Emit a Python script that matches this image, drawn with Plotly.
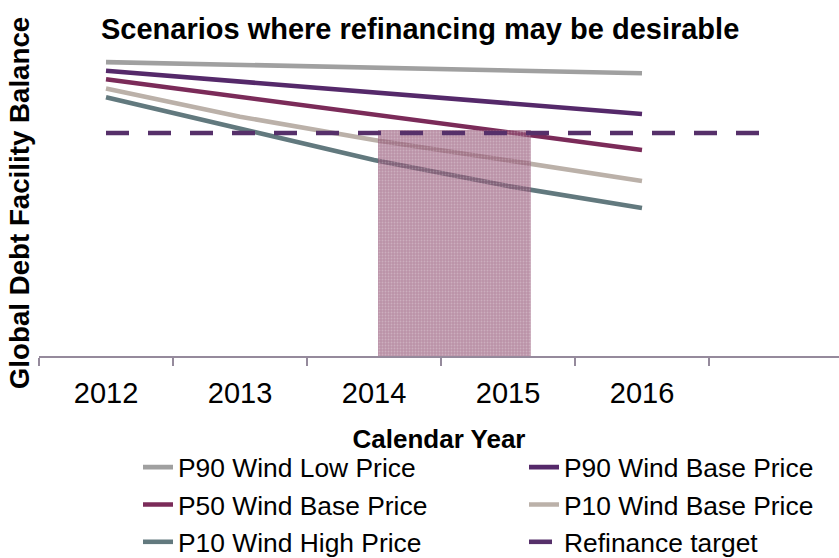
import plotly.graph_objects as go

years = [2012, 2013, 2014, 2015, 2016]
p90_low = [131.8, 130.5, 129.4, 128.0, 126.8]
p90_base = [127.9, 123.1, 118.3, 113.4, 108.5]
p50_base = [124.1, 116.1, 108.3, 100.4, 92.4]
p10_base = [119.9, 107.3, 96.9, 87.9, 78.5]
p10_high = [116.0, 102.2, 87.9, 76.2, 66.4]
target_years = [2012, 2013, 2014, 2015, 2016, 2017]
refinance_target = [100, 100, 100, 100, 100, 100]
window_years = [2014.03, 2015.17]
window_height = 101.3
tick_labels = ["2012", "2013", "2014", "2015", "2016"]
boundaries = [2011.5, 2012.5, 2013.5, 2014.5, 2015.5, 2016.5, 2017.5]

FONT = "Liberation Sans, Arial, sans-serif"

series = [
    ("P90 Wind Low Price", p90_low, "#a0a0a0", 341),
    ("P90 Wind Base Price", p90_base, "#55296a", 250),
    ("P50 Wind Base Price", p50_base, "#7b2b59", 341),
    ("P10 Wind Base Price", p10_base, "#bbb1a9", 250),
    ("P10 Wind High Price", p10_high, "#62797e", 341),
]

fig = go.Figure()
for name, vals, color, lw in series:
    fig.add_trace(go.Scatter(x=years, y=vals, name=name, mode="lines",
                             line=dict(color=color, width=4.6), legendwidth=lw))

wx = [window_years[0], window_years[1], window_years[1], window_years[0], window_years[0]]
wy = [0, 0, window_height, window_height, 0]
fig.add_trace(go.Scatter(x=wx, y=wy, mode="lines", fill="toself", showlegend=False,
                         line=dict(width=0, color="rgba(0,0,0,0)"),
                         fillcolor="rgba(145,80,115,0.62)",
                         fillpattern=dict(shape=".", fgcolor="rgba(255,255,255,0.5)",
                                          bgcolor="rgba(145,80,115,0.62)", size=3, solidity=0.3),
                         hoverinfo="skip"))

fig.add_trace(go.Scatter(x=target_years, y=refinance_target, name="Refinance target", mode="lines",
                         line=dict(color="#56306a", width=4.6, dash="23px,19px"), legendwidth=250))

fig.update_layout(
    width=839, height=558,
    margin=dict(l=39, r=0, t=50, b=202, autoexpand=False),
    paper_bgcolor="white", plot_bgcolor="white",
    font=dict(family=FONT, color="black"),
    title=dict(text="<b>Scenarios where refinancing may be desirable</b>",
               font=dict(size=29, family=FONT, color="black"),
               xref="container", x=101/839, xanchor="left",
               yref="container", y=1-29/558, yanchor="middle"),
    xaxis=dict(range=[2011.5, 2011.5 + 800/134], tickmode="array", tickvals=years,
               ticktext=tick_labels, ticks="", showgrid=False, zeroline=False,
               showline=True, linecolor="#958a9c", linewidth=2, automargin=False,
               ticklabelstandoff=10,
               tickfont=dict(size=29, family=FONT, color="black"),
               minor=dict(tickvals=boundaries, ticks="outside", ticklen=8,
                          tickcolor="#958a9c", tickwidth=2, showgrid=False),
               title=dict(text="<b>Calendar Year</b>", font=dict(size=26, family=FONT, color="black"),
                          standoff=22)),
    yaxis=dict(range=[0, 306/2.23], showticklabels=False, showgrid=False, zeroline=False,
               showline=False, ticks="", automargin=False,
               title=dict(text="<b>Global Debt Facility Balance</b>",
                          font=dict(size=27.7, family=FONT, color="black"), standoff=0)),
    legend=dict(orientation="h", x=(138-39)/800, xanchor="left", y=(356-443.5)/306, yanchor="top",
                font=dict(size=26.4, family=FONT, color="black"), bgcolor="rgba(0,0,0,0)",
                itemwidth=30),
    showlegend=True,
)

fig.write_html("out.html", config={"displayModeBar": False},
               post_script="document.body.style.margin='0';document.body.style.overflow='hidden';")
